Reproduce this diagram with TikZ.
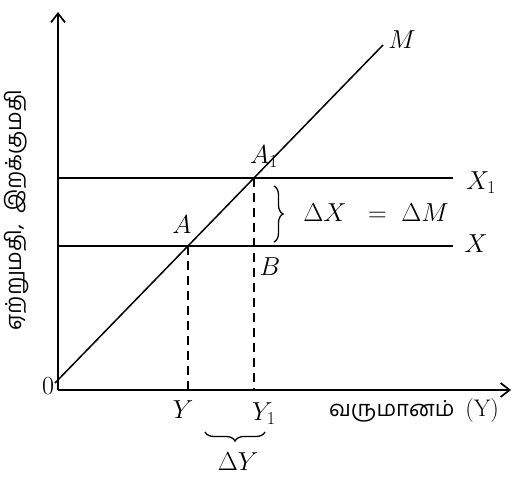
\RequirePackage{fix-cm}
\documentclass[tikz,border=0pt]{standalone}
\usepackage{fontspec}
\newfontfamily\tamil[Script=Tamil]{Hind Madurai}
\usetikzlibrary{decorations.pathreplacing,arrows.meta}
\begin{document}
\begin{tikzpicture}[x=1pt,y=-1pt,
  axis/.style={line width=1.7pt,-{Straight Barb[length=9pt,width=14pt,line width=1.7pt]}},
  curve/.style={line width=1.5pt},
  guide/.style={line width=1.5pt,dash pattern=on 9pt off 6pt},
  lbl/.style={font=\fontsize{26}{30}\selectfont,inner sep=1pt},
  tlbl/.style={font=\tamil\fontsize{22}{26}\selectfont,inner sep=1pt},
  brc/.style={line width=1.3pt,decorate,decoration={brace,amplitude=9pt}}]
\useasboundingbox (0,0) rectangle (521,479);
\coordinate (O) at (58,390);
\coordinate (ytop) at (58,12);
\coordinate (xend) at (511,390);
\coordinate (A) at (188,246);
\coordinate (A1) at (254,178);
\coordinate (Ms) at (55,383);
\coordinate (Me) at (383,45);
\coordinate (X1s) at (58,178);
\coordinate (X1e) at (453,178);
\coordinate (Xs) at (58,246);
\coordinate (Xe) at (453,246);
\coordinate (b1) at (274,186);
\coordinate (b2) at (274,242);
\coordinate (c1) at (205,432);
\coordinate (c2) at (265,432);
% axes
\draw[axis] (O) -- (ytop);
\draw[axis] (O) -- (xend);
% lines
\draw[curve] (Ms) -- (Me);
\draw[curve] (X1s) -- (X1e);
\draw[curve] (Xs) -- (Xe);
\draw[guide] (A) -- (A|-O);
\draw[guide] (A1) -- (A1|-O);
% braces
\draw[brc] (b1) -- (b2);
\draw[brc] (c2) -- (c1);
% labels
\node[lbl] (lM) at (402,40) {$M$};
\node[lbl] (lA) at (182,225) {$A$};
\node[lbl] (lA1) at (264,157) {$A_1$};
\node[lbl] (lB) at (270,267) {$B$};
\node[lbl] (lX1) at (481,183) {$X_1$};
\node[lbl] (lX) at (476,244) {$X$};
\node[lbl] (ldx) at (376,213) {$\Delta X\;\;=\;\Delta M$};
\node[lbl] (l0) at (48,386) {0};
\node[lbl] (lY) at (183,410) {$Y$};
\node[lbl] (lY1) at (264,414) {$Y_1$};
\node[lbl] (ldY) at (238,462) {$\Delta Y$};
\node[tlbl] (lx) at (414,411) {வருமானம்\ \ {\rmfamily\fontsize{24}{28}\selectfont(Y)}};
\node[tlbl,rotate=90] (ly) at (17,210) {ஏற்றுமதி,\ \ இறக்குமதி};
\end{tikzpicture}
\end{document}
